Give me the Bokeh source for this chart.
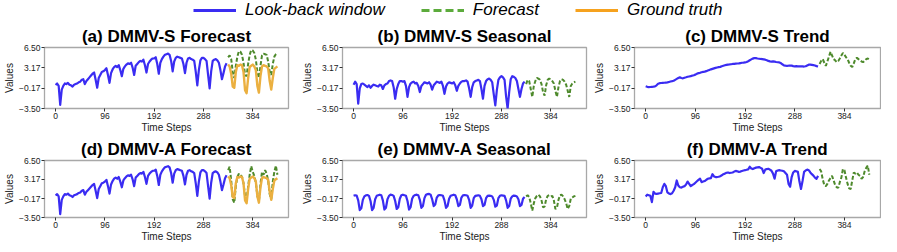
from bokeh.plotting import figure
from bokeh.models import Range1d, FixedTicker, Legend, LegendItem
from bokeh.layouts import column, row
from bokeh.embed import file_html
from bokeh.resources import INLINE

# ---------------- data ----------------
x_ticks = [0, 96, 192, 288, 384]
y_ticks = [-3.5, -0.17, 3.17, 6.5]
y_tick_labels = ["\u22123.50", "\u22120.17", "3.17", "6.50"]

lookback_steps = list(range(0, 336, 3))
forecast_steps = list(range(336, 433, 3))

# look-back window (same input for DMMV-S and DMMV-A forecast panels)
input_series = [
    0.35, 0.6, 0.2, -2.9, -0.4, 0.2, 0.6, 0.5,
    0.7, 0.4, 0.3, 0.1, 0.4, 0.5, 0.6, 0.8,
    0.9, 1.2, 1.3, 0.5, 1.0, 1.3, 1.6, 1.9,
    2.2, 2.4, 1.2, -0.1, 1.5, 2.0, 2.5, 2.6,
    2.8, 3.1, 2.0, 0.7, 2.3, 2.9, 3.3, 3.5,
    3.3, 3.6, 2.8, 1.8, 3.0, 3.4, 3.7, 3.9,
    3.8, 4.0, 3.2, 2.0, 3.5, 3.8, 4.1, 4.3,
    4.2, 4.5, 3.6, 2.4, 3.8, 4.2, 4.5, 4.7,
    4.7, 4.9, 3.8, 2.2, 4.0, 4.6, 5.0, 5.3,
    5.4, 5.5, 5.3, 4.3, 2.6, 4.2, 4.8, 5.0,
    4.9, 4.8, 4.7, 3.8, 2.3, 4.0, 4.7, 4.8,
    4.6, 4.5, 4.3, 2.5, 0.3, 2.8, 4.4, 4.8,
    4.8, 4.6, 4.3, 2.0, -0.2, 2.6, 4.3, 4.5,
    4.6, 4.4, 4.0, 2.8, 1.3, 2.3, 3.4, 3.9,
]
ground_truth = [
    3.7, 3.4, 2.2, 0.1, -0.1, 2.5, 3.6, 3.5, 3.7, 3.6,
    2.5, -0.5, -1.0, 1.5, 3.3, 3.5, 3.7, 3.4, 2.8, 0.2,
    -0.9, 1.8, 3.4, 3.6, 3.5, 3.4, 3.1, 1.0, -0.4, 1.5,
    3.0, 3.2, 3.4,
]
s_forecast = [
    4.9, 5.2, 4.6, 2.5, 1.5, 3.5, 5.0, 5.9, 5.8, 5.3,
    4.0, 2.0, 1.8, 3.8, 5.3, 6.1, 6.0, 5.6, 4.5, 2.5,
    1.5, 3.5, 5.2, 5.5, 5.4, 5.3, 4.2, 2.5, 2.0, 3.8,
    5.0, 5.4, 5.6,
]
a_forecast = [
    4.8, 5.4, 3.0, -0.3, -0.9, 2.0, 3.6, 4.2, 3.9, 3.7,
    2.5, 0.3, -0.4, 2.0, 4.0, 5.5, 4.5, 3.8, 2.6, 0.3,
    -0.6, 2.4, 4.5, 4.0, 4.8, 4.2, 3.0, 0.6, -0.3, 2.8,
    4.5, 5.6, 4.0,
]
s_seasonal_in = [
    0.4, 0.9, 0.5, -2.7, -0.2, 0.5, 0.6, 0.4,
    0.2, 0.0, 0.3, -0.1, 0.2, 0.4, 0.3, 0.2,
    0.1, 0.4, 0.3, -0.3, 0.3, 0.5, 0.6, 1.0,
    1.1, 1.0, 0.0, -1.9, -0.3, 0.5, 1.0, 1.0,
    0.9, 1.0, 0.2, -1.6, 0.0, 0.6, 0.8, 0.9,
    0.6, 0.7, 0.2, -0.8, 0.2, 0.5, 0.8, 0.7,
    0.6, 0.8, 0.4, -0.4, 0.3, 0.6, 0.9, 0.8,
    0.7, 0.9, 0.2, -1.1, 0.1, 0.6, 0.8, 0.7,
    0.6, 0.8, 0.3, -0.6, 0.2, 0.6, 0.9, 1.0,
    1.0, 1.1, 0.9, -0.2, -1.6, 0.0, 0.8, 1.0,
    1.1, 1.2, 1.0, -0.3, -1.9, 0.2, 1.0, 1.3,
    1.4, 1.2, 0.8, -1.2, -3.0, -0.5, 1.2, 1.6,
    1.8, 1.6, 1.2, -1.5, -3.5, -0.8, 1.3, 1.8,
    1.7, 1.5, 1.0, -0.3, -1.6, -0.3, 0.6, 0.9,
]
s_seasonal_fc = [
    0.5, 1.2, 1.0, -0.3, -1.6, 0.2, 1.0, 1.5, 1.4, 1.2,
    0.5, -0.8, -1.4, 0.3, 1.2, 1.4, 1.3, 1.0, 0.6, -0.6,
    -1.6, 0.0, 1.0, 1.3, 1.2, 0.9, 0.4, -0.6, -1.6, 0.2,
    0.6, 0.8, 0.9,
]
s_trend_in = [
    0.15, 0.05, 0.0, 0.02, 0.05, 0.08, 0.12, 0.3,
    0.55, 0.65, 0.68, 0.7, 0.72, 0.75, 0.78, 0.85,
    0.92, 0.98, 1.05, 1.2, 1.35, 1.5, 1.6, 1.5,
    1.45, 1.55, 1.62, 1.7, 1.75, 1.8, 1.9, 1.95,
    2.05, 2.2, 2.3, 2.35, 2.45, 2.5, 2.55, 2.62,
    2.72, 2.82, 2.92, 3.0, 3.08, 3.15, 3.22, 3.28,
    3.32, 3.42, 3.5, 3.58, 3.65, 3.7, 3.72, 3.75,
    3.8, 3.82, 3.85, 3.88, 3.9, 3.95, 4.0, 4.02,
    4.05, 4.12, 4.25, 4.4, 4.55, 4.68, 4.78, 4.75,
    4.7, 4.66, 4.62, 4.6, 4.55, 4.5, 4.42, 4.3,
    4.22, 4.2, 4.22, 4.18, 4.12, 4.08, 4.05, 3.95,
    3.75, 3.58, 3.52, 3.5, 3.52, 3.55, 3.52, 3.45,
    3.42, 3.44, 3.42, 3.42, 3.4, 3.4, 3.38, 3.42,
    3.55, 3.68, 3.7, 3.65, 3.6, 3.55, 3.45, 3.4,
]
s_trend_fc = [
    3.8, 4.3, 4.6, 4.0, 3.5, 4.2, 5.0, 5.8, 5.2, 4.6,
    4.4, 4.1, 4.3, 4.7, 5.2, 5.6, 5.3, 4.9, 4.6, 4.0,
    3.5, 3.3, 3.9, 4.6, 4.8, 4.6, 4.4, 4.2, 4.1, 4.3,
    4.6, 4.7, 4.5,
]
a_seasonal_in = [
    0.3, 0.4, 0.35, -0.5, -2.2, -1.9, -0.4, 0.2,
    0.4, 0.45, 0.3, -0.6, -2.2, -1.8, -0.3, 0.3,
    0.4, 0.5, 0.4, -0.5, -2.1, -1.8, -0.3, 0.3,
    0.5, 0.45, 0.3, -0.6, -2.0, -1.7, -0.2, 0.4,
    0.5, 0.4, 0.3, -0.6, -2.1, -1.7, -0.2, 0.3,
    0.45, 0.5, 0.4, -0.4, -1.8, -1.5, -0.1, 0.5,
    0.6, 0.65, 0.5, -0.3, -1.5, -1.2, 0.0, 0.4,
    0.45, 0.4, 0.3, -0.5, -1.8, -1.5, -0.2, 0.3,
    0.4, 0.5, 0.4, -0.3, -1.5, -1.3, 0.0, 0.4,
    0.45, 0.4, 0.3, -0.4, -1.8, -1.4, -0.1, 0.3,
    0.35, 0.4, 0.3, -0.3, -1.5, -1.3, -0.1, 0.3,
    0.35, 0.3, 0.2, -0.4, -1.6, -1.4, -0.1, 0.3,
    0.4, 0.35, 0.3, -0.5, -1.8, -1.5, -0.2, 0.2,
    0.35, 0.3, 0.2, -0.3, -1.5, -1.3, -0.2, 0.1,
]
a_seasonal_fc = [
    0.2, 0.4, 0.1, -1.0, -2.3, -1.0, -0.1, 0.3, 0.5, 0.2,
    -0.5, -1.7, -1.6, -0.3, 0.3, 0.4, 0.2, 0.3, -0.5, -2.0,
    -1.8, -0.4, 0.4, 0.5, 0.2, -0.3, -1.0, -2.0, -1.5, -0.2,
    0.0, 0.2, 0.3,
]
a_trend_in = [
    0.2, 0.5, 0.4, 0.3, -0.8, 1.0, 0.7, 0.65,
    0.7, 0.75, 0.8, 1.8, 2.4, 2.0, 0.9, 0.7,
    0.6, 0.75, 1.2, 1.8, 3.0, 2.1, 1.8, 1.75,
    1.9, 2.0, 2.3, 2.8, 2.4, 2.0, 2.2, 2.35,
    2.6, 2.85, 3.1, 3.3, 2.7, 2.8, 2.9, 3.1,
    3.3, 3.35, 3.4, 4.1, 3.7, 3.6, 3.6, 3.65,
    3.75, 3.9, 4.1, 4.2, 4.35, 4.4, 4.3, 4.35,
    4.4, 4.55, 4.67, 4.6, 4.5, 4.55, 4.67, 4.75,
    4.8, 4.88, 4.95, 5.4, 5.1, 5.0, 5.15, 5.25,
    5.3, 5.35, 5.2, 5.05, 4.3, 4.9, 5.0, 5.05,
    4.9, 4.7, 4.2, 3.3, 4.6, 4.75, 4.8, 4.75,
    4.7, 4.6, 4.3, 4.0, 2.4, 1.9, 3.6, 4.4,
    4.67, 4.6, 4.5, 2.8, 1.5, 2.9, 4.5, 4.75,
    4.9, 4.8, 4.4, 4.1, 3.85, 3.5, 3.3, 3.8,
]
a_trend_fc = [
    5.0, 4.6, 3.2, 2.2, 2.0, 2.4, 3.0, 3.4, 3.8, 3.0,
    2.2, 1.8, 1.7, 2.7, 3.5, 5.0, 4.8, 3.5, 2.4, 1.6,
    1.5, 3.0, 4.4, 4.2, 4.4, 4.0, 3.8, 3.3, 3.6, 4.6,
    5.2, 5.6, 4.0,
]

legend_labels = ["Look-back window", "Forecast", "Ground truth"]

# ---------------- styling ----------------
BLUE = "#3a2cf2"
GREEN = "#4e8a2c"
ORANGE = "#ebb040"
LEG_GREEN = "#5cab3c"
LEG_ORANGE = "#f6a21e"
FONT = "Liberation Sans"


def panel(title, look, fc, gt, width, left, right, height, top, bottom,
          title_offset):
    p = figure(width=width, height=height, output_backend="svg",
               toolbar_location=None,
               x_range=Range1d(-21.6, 453.6), y_range=Range1d(-3.5, 6.5),
               min_border_left=left, min_border_right=right,
               min_border_top=top, min_border_bottom=bottom,
               background_fill_color="white", border_fill_color="white",
               outline_line_color="#a8a8a8", outline_line_width=1.3)
    p.title.text = title
    p.title.text_font = FONT
    p.title.text_font_style = "bold"
    p.title.text_font_size = "17px"
    p.title.text_color = "black"
    p.title.align = "center"
    p.title.standoff = 3
    p.title.offset = title_offset
    p.xgrid.visible = False
    p.ygrid.visible = False
    p.xaxis.ticker = FixedTicker(ticks=x_ticks)
    p.yaxis.ticker = FixedTicker(ticks=y_ticks)
    p.yaxis.major_label_overrides = dict(zip(y_ticks, y_tick_labels))
    p.xaxis.axis_label = "Time Steps"
    p.yaxis.axis_label = "Values"
    for ax in (p.xaxis[0], p.yaxis[0]):
        ax.axis_line_color = None
        ax.major_tick_line_color = "#333333"
        ax.major_tick_out = 3
        ax.major_tick_in = 0
        ax.minor_tick_line_color = None
        ax.major_label_text_font = FONT
        ax.major_label_text_font_size = "8.5px"
        ax.major_label_text_color = "#222222"
        ax.major_label_standoff = 1
        ax.axis_label_text_font = FONT
        ax.axis_label_text_font_size = "10px"
        ax.axis_label_text_font_style = "normal"
        ax.axis_label_text_color = "#222222"
    p.xaxis.axis_label_standoff = 0
    p.yaxis.axis_label_standoff = 1
    p.line(lookback_steps, look, line_color=BLUE, line_width=2.2,
           line_join="round")
    p.line(forecast_steps, fc, line_color=GREEN, line_width=2,
           line_dash="4 2")
    if gt is not None:
        p.line(forecast_steps, gt, line_color=ORANGE, line_width=2.4,
               line_join="round")
    return p


pa = panel("(a) DMMV-S Forecast", input_series, s_forecast, ground_truth,
           298, 40, 10, 115, 27, 24, -8)
pb = panel("(b) DMMV-S Seasonal", s_seasonal_in, s_seasonal_fc, None,
           292, 44, 4, 115, 27, 24, -5)
pc = panel("(c) DMMV-S Trend", s_trend_in, s_trend_fc, None,
           291, 44, 1, 115, 27, 24, -5)
pd_ = panel("(d) DMMV-A Forecast", input_series, a_forecast, ground_truth,
            298, 40, 10, 109, 25, 23, -8)
pe = panel("(e) DMMV-A Seasonal", a_seasonal_in, a_seasonal_fc, None,
           292, 44, 4, 109, 25, 23, -5)
pf = panel("(f) DMMV-A Trend", a_trend_in, a_trend_fc, None,
           291, 44, 1, 109, 25, 23, -5)

# legend strip
lg = figure(width=881, height=20, output_backend="svg", toolbar_location=None,
            x_range=Range1d(0, 1), y_range=Range1d(0, 1),
            min_border=0, outline_line_color=None,
            background_fill_color="white", border_fill_color="white")
lg.axis.visible = False
lg.grid.visible = False
# renderers whose data lie outside the strip's range: only their legend
# glyphs are seen
r1 = lg.line([5, 6], [5, 6], line_color=BLUE, line_width=3)
r2 = lg.line([5, 6], [5, 6], line_color=LEG_GREEN, line_width=3,
             line_dash="8 4")
r3 = lg.line([5, 6], [5, 6], line_color=LEG_ORANGE, line_width=3)
legend = Legend(items=[LegendItem(label=legend_labels[0], renderers=[r1]),
                       LegendItem(label=legend_labels[1], renderers=[r2]),
                       LegendItem(label=legend_labels[2], renderers=[r3])],
                orientation="horizontal", location=(193, 0),
                label_text_font=FONT, label_text_font_style="italic",
                label_text_font_size="17px", label_text_color="black",
                label_standoff=9, glyph_width=43, glyph_height=14,
                spacing=36, padding=0, margin=0, border_line_color=None,
                background_fill_alpha=0)
lg.add_layout(legend, "center")

layout = column(lg, row(pa, pb, pc), row(pd_, pe, pf))
open("out.html", "w").write(file_html(layout, INLINE))
